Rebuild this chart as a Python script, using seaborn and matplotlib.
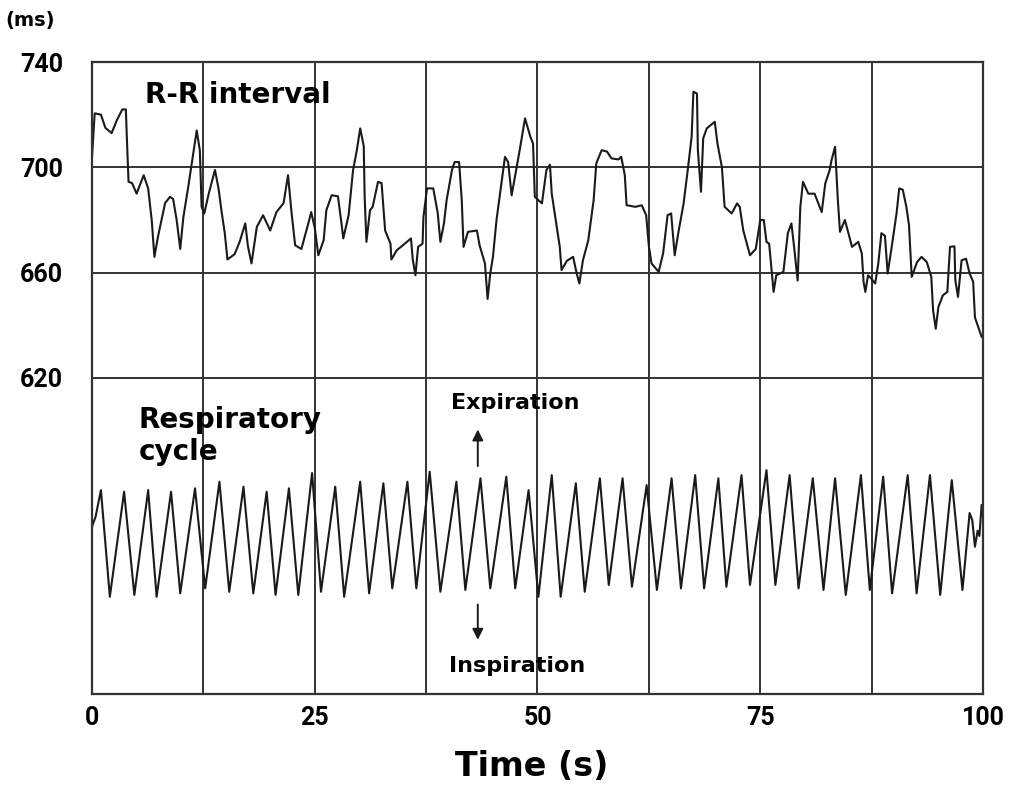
"""R-R interval and respiratory cycle over 100 s."""

import matplotlib
matplotlib.use("Agg")
import matplotlib.pyplot as plt
import pandas as pd
import seaborn as sns

# R-R interval trace (s, ms)
rr_time = [
    0, 0.3, 1.0, 1.5, 2.2, 2.8, 3.4, 3.8, 3.9, 4.1, 4.5, 5.0, 5.8, 6.3, 6.7,
    7.0, 7.4, 8.2, 8.75, 9.1, 9.5, 9.9, 10.25, 10.8, 11.2, 11.75, 12.1, 12.3,
    12.6, 13.1, 13.8, 14.2, 14.55, 14.9, 15.2, 16.0, 16.6, 17.2, 17.5, 17.9,
    18.5, 19.2, 20.0, 20.7, 21.5, 22.0, 22.4, 22.8, 23.5, 24.3, 24.6, 25.0,
    25.4, 26.0, 26.3, 26.9, 27.6, 28.0, 28.2, 28.8, 29.3, 29.7, 30.1, 30.5,
    30.6, 30.8, 31.2, 31.5, 32.1, 32.5, 32.9, 33.5, 33.6, 34.2, 35.1, 35.8,
    36.0, 36.3, 36.6, 37.1, 37.2, 37.6, 38.3, 38.8, 39.1, 39.5, 39.8, 40.4,
    40.7, 41.2, 41.5, 41.7, 42.2, 43.2, 43.5, 44.1, 44.4, 44.7, 45.0, 45.4,
    46.0, 46.35, 46.7, 47.1, 47.5, 48.0, 48.6, 49.2, 49.5, 49.7, 50.5, 51.0,
    51.4, 51.6, 52.1, 52.5, 52.7, 53.3, 54.0, 54.4, 54.7, 55.1, 55.7, 56.3,
    56.6, 57.2, 57.8, 58.3, 59.1, 59.4, 59.8, 60.0, 61.0, 61.7, 62.2, 62.5,
    62.8, 63.6, 64.1, 64.6, 65.0, 65.4, 65.8, 66.4, 66.9, 67.3, 67.5, 67.9,
    68.0, 68.35, 68.6, 69.0, 69.9, 70.2, 70.7, 71.0, 71.8, 72.4, 72.7, 73.1,
    73.85, 74.5, 75.0, 75.4, 75.7, 76.0, 76.5, 76.8, 77.6, 78.1, 78.5, 78.8,
    79.2, 79.5, 79.8, 80.4, 81.1, 81.9, 82.3, 82.8, 83.0, 83.4, 83.7, 83.95,
    84.5, 84.9, 85.3, 86.0, 86.4, 86.6, 86.8, 87.1, 87.4, 87.9, 88.25, 88.6,
    89.0, 89.3, 89.7, 90.3, 90.6, 91.0, 91.4, 91.7, 92.0, 92.6, 93.1, 93.7,
    94.2, 94.4, 94.7, 95.0, 95.5, 96.0, 96.3, 96.8, 96.9, 97.2, 97.6, 98.1,
    98.5, 98.9, 99.1, 99.85,
]
rr_ms = [
    704, 720.5, 720, 715, 713, 718, 722, 722, 712, 694.5, 694, 690, 697, 692,
    680, 666, 673.6, 686.4, 688.8, 688, 680, 669, 681, 692.6, 701.6, 714,
    706.5, 685, 682.5, 690, 699, 692, 683, 675, 665, 667, 672, 678.7, 670,
    663.5, 677.4, 681.8, 676, 683, 686.4, 697, 682.6, 670.4, 669, 679, 683,
    677, 666.6, 672.3, 683.7, 689.4, 689, 678.7, 673, 681.8, 699, 706, 714.8,
    708, 688.8, 671.7, 683.7, 685, 694.5, 694, 676, 671, 665, 668.5, 671, 673,
    665, 659, 669.8, 671, 681.2, 692, 692, 682.7, 671.7, 678.7, 687.5, 699,
    702, 702, 687.5, 669.8, 675.5, 676, 670.4, 663.5, 650, 659.7, 666, 680,
    695, 704, 702, 689.4, 697, 706.5, 718.6, 711.6, 709, 688.8, 686.3, 699,
    701, 690, 678.7, 669.8, 661, 664.5, 666, 659.7, 655.9, 664.7, 672.3, 687.5,
    701.5, 706.5, 706, 703.4, 703, 704, 697, 685.6, 685, 685.6, 681.8, 670,
    663.5, 660.3, 667.3, 681.8, 682.5, 666.6, 675, 686.3, 700, 711.6, 728.7, 728,
    706.5, 690.7, 711, 714.8, 717.3, 709, 700, 685, 682.5, 686.3, 685, 676,
    666.6, 669, 680, 680, 671.7, 671, 652.7, 659, 660.3, 675, 678.7, 669.8,
    657, 685, 694.5, 690, 690, 683, 693.9, 699, 702.7, 707.8, 688.2, 675.5,
    680, 675, 669.8, 671.7, 667.3, 656.5, 652.7, 659, 658, 655.9, 663.5, 675,
    674, 659.7, 668.5, 682.5, 692, 691.5, 685, 678, 658.4, 664, 666, 664,
    658.4, 645.7, 638.7, 647, 651.4, 652.7, 669.8, 670, 657, 650.8, 664.7, 665.3,
    659.7, 656.5, 643, 635.6,
]

# respiratory trace, drawn in the same vertical scale (peaks/troughs)
resp_time = [
    0.0, 0.4, 1.0, 2.0, 3.6, 4.75, 6.3, 7.25, 8.87, 9.9, 11.56, 12.7, 14.3,
    15.4, 17.0, 18.1, 19.6, 20.6, 22.1, 23.15, 24.7, 25.7, 27.3, 28.3, 30.1,
    31.1, 32.7, 33.7, 35.4, 36.4, 37.9, 39.1, 40.9, 41.9, 43.6, 44.7, 46.5,
    47.5, 49.0, 50.1, 51.6, 52.6, 54.3, 55.3, 57.0, 58.0, 59.55, 60.6, 62.25,
    63.4, 65.05, 66.1, 67.7, 68.7, 70.3, 71.2, 72.9, 73.85, 75.7, 76.7, 78.3,
    79.3, 80.9, 82.1, 83.4, 84.6, 86.3, 87.3, 88.8, 89.8, 91.55, 92.55, 94.05,
    95.2, 96.5, 97.7, 98.5, 98.8, 99.1, 99.4, 99.6, 99.85,
]
resp_level = [
    563.5, 567.3, 577.4, 536.9, 576.8, 537.6, 577.4, 536.9, 576.8, 538.2,
    578.1, 540.1, 580.6, 538.8, 578.7, 538.2, 576.8, 537.6, 578.1, 537.6,
    583.9, 538.8, 578.7, 536.9, 580.6, 538.2, 580.0, 540.1, 580.6, 540.1,
    584.4, 538.8, 580.6, 539.5, 581.9, 540.1, 582.5, 540.1, 577.4, 536.9,
    583.1, 536.9, 580.0, 538.8, 581.9, 541.4, 581.9, 540.7, 579.3, 539.5,
    581.9, 540.1, 583.1, 540.1, 581.9, 540.7, 583.1, 541.4, 585.0, 541.4,
    583.1, 540.1, 581.9, 539.5, 581.9, 537.6, 583.1, 539.5, 582.5, 538.2,
    583.1, 538.2, 583.1, 537.6, 581.2, 539.5, 568.7, 566.0, 555.9, 562.0,
    560.0, 571.8,
]

x_labels = [0, 25, 50, 75, 100]
x_grid = [12.5, 37.5, 62.5, 87.5]
y_labels = [620, 660, 700, 740]

rr_df = pd.DataFrame({"time": rr_time, "value": rr_ms})
resp_df = pd.DataFrame({"time": resp_time, "value": resp_level})

sns.set_theme(style="white")
plt.rcParams["font.family"] = ["DejaVu Sans"]
plt.rcParams["font.weight"] = "bold"
plt.rcParams["text.color"] = "black"
plt.rcParams["axes.labelcolor"] = "black"
TICK_FONT = ["Roboto", "DejaVu Sans"]

fig = plt.figure(figsize=(10.09, 7.85), dpi=100)
ax = fig.add_axes([0.0912, 0.116, 0.883, 0.805])

line_kw = dict(color="#1a1a1a", linewidth=1.5, estimator=None, sort=False,
               legend=False, ax=ax)
sns.lineplot(data=rr_df, x="time", y="value", **line_kw)
sns.lineplot(data=resp_df, x="time", y="value", **line_kw)

ax.set_xlim(0, 100)
ax.set_ylim(500, 740)
ax.set_xticks(x_labels)
ax.set_xticks(x_grid, minor=True)
ax.set_yticks(y_labels)
ax.grid(True, which="both", axis="x", color="#333333", linewidth=1.4)
ax.grid(True, which="major", axis="y", color="#333333", linewidth=1.4)
ax.set_axisbelow(True)
for sp in ax.spines.values():
    sp.set_color("#333333")
    sp.set_linewidth(1.6)

ax.tick_params(axis="both", which="both", length=0, labelsize=18,
               labelcolor="black")
ax.tick_params(axis="x", pad=9)
ax.tick_params(axis="y", pad=21)
for lab in ax.get_xticklabels() + ax.get_yticklabels():
    lab.set_family(TICK_FONT)
    lab.set_fontweight("bold")

ax.set_xlabel("")
ax.set_ylabel("")
fig.text(0.527, 0.0115, "Time (s)", fontsize=24, fontweight="bold",
         ha="center", va="baseline")

fig.text(0.03, 0.974, "(ms)", fontsize=14, fontweight="bold",
         ha="center", va="center")

ax.text(5.9, 727.5, "R-R interval", fontsize=20, fontweight="bold",
        ha="left", va="center")
ax.text(5.2, 598, "Respiratory\ncycle", fontsize=20, fontweight="bold",
        ha="left", va="center", linespacing=1.15)
ax.text(47.5, 610.5, "Expiration", fontsize=16, fontweight="bold",
        ha="center", va="center")
ax.text(47.7, 510.5, "Inspiration", fontsize=16, fontweight="bold",
        ha="center", va="center")

arrow = dict(arrowstyle="-|>", color="#1a1a1a", lw=1.4, mutation_scale=16)
ax.annotate("", xy=(43.3, 601.5), xytext=(43.3, 585.5), arrowprops=arrow)
ax.annotate("", xy=(43.3, 519.5), xytext=(43.3, 535), arrowprops=arrow)

fig.savefig("out.png", dpi=100)
